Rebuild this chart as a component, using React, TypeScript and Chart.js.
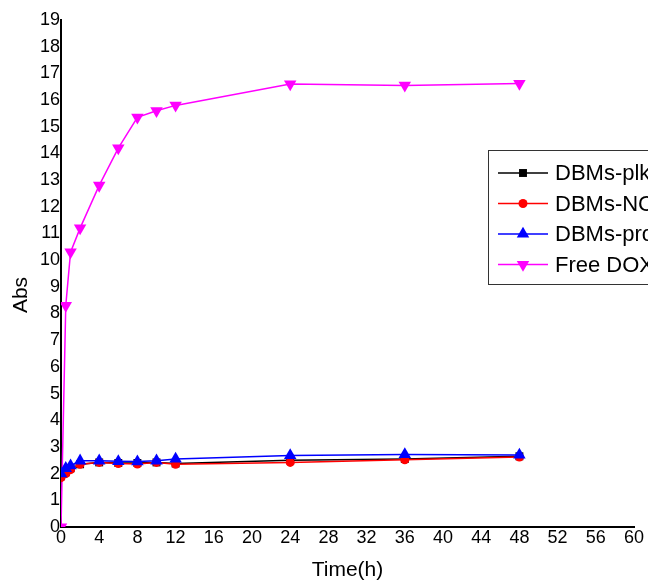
import React, { useEffect, useRef } from "react";
import { Chart, registerables } from "chart.js";

Chart.register(...registerables);

const times = [0, 0.5, 1, 2, 4, 6, 8, 10, 12, 24, 36, 48];
const plkValues = [1.9, 2.05, 2.2, 2.35, 2.42, 2.4, 2.4, 2.42, 2.38, 2.5, 2.55, 2.65];
const ncValues = [1.85, 2.0, 2.15, 2.35, 2.42, 2.38, 2.36, 2.42, 2.35, 2.42, 2.52, 2.62];
const proValues = [2.0, 2.2, 2.3, 2.48, 2.48, 2.46, 2.45, 2.48, 2.55, 2.68, 2.72, 2.7];
const doxValues = [0, 8.3, 10.3, 11.2, 12.8, 14.2, 15.35, 15.6, 15.8, 16.6, 16.55, 16.62];
const seriesLabels = ["DBMs-plk", "DBMs-NC", "DBMs-pro", "Free DOX"];
const xTitle = "Time(h)";
const yTitle = "Abs";

const FONT = "'Liberation Sans', Arial, sans-serif";

function drawMarker(ctx: CanvasRenderingContext2D, style: string, r: number, x: number, y: number, color: string) {
  ctx.save();
  ctx.fillStyle = color;
  ctx.beginPath();
  if (style === "rect") {
    const s = r * Math.SQRT1_2;
    ctx.rect(x - s, y - s, 2 * s, 2 * s);
  } else if (style === "circle") {
    ctx.arc(x, y, r, 0, Math.PI * 2);
  } else if (style === "up") {
    ctx.moveTo(x, y - r);
    ctx.lineTo(x + r * Math.sin(Math.PI / 3), y + r / 2);
    ctx.lineTo(x - r * Math.sin(Math.PI / 3), y + r / 2);
    ctx.closePath();
  } else {
    ctx.moveTo(x, y + r);
    ctx.lineTo(x + r * Math.sin(Math.PI / 3), y - r / 2);
    ctx.lineTo(x - r * Math.sin(Math.PI / 3), y - r / 2);
    ctx.closePath();
  }
  ctx.fill();
  ctx.restore();
}

const legendMarkers = [
  { style: "rect", r: 5.6, color: "#000000" },
  { style: "circle", r: 4.5, color: "#ff0000" },
  { style: "up", r: 7.2, color: "#0000ff" },
  { style: "down", r: 7.2, color: "#ff00ff" },
];

const overlayPlugin = {
  id: "overlay",
  afterDraw(chart: any) {
    const ctx = chart.ctx as CanvasRenderingContext2D;
    const area = chart.chartArea;
    ctx.save();
    // axis titles
    ctx.fillStyle = "#000";
    ctx.font = `21px ${FONT}`;
    ctx.textAlign = "center";
    ctx.textBaseline = "middle";
    ctx.fillText(xTitle, (area.left + area.right) / 2, 570);
    ctx.save();
    ctx.translate(21, 295);
    ctx.rotate(-Math.PI / 2);
    ctx.fillText(yTitle, 0, 0);
    ctx.restore();

    // legend box
    const bx = 488, by = 150, bh = 134;
    ctx.strokeStyle = "#333";
    ctx.lineWidth = 1;
    ctx.strokeRect(bx + 0.5, by + 0.5, 220, bh);
    ctx.textAlign = "left";
    ctx.font = `22px ${FONT}`;
    for (let i = 0; i < seriesLabels.length; i++) {
      const y = 173 + i * 30.5;
      const m = legendMarkers[i];
      ctx.strokeStyle = m.color;
      ctx.lineWidth = 1.5;
      ctx.beginPath();
      ctx.moveTo(498, y);
      ctx.lineTo(548, y);
      ctx.stroke();
      drawMarker(ctx, m.style, m.r, 523, y, m.color);
      ctx.fillStyle = "#000";
      ctx.fillText(seriesLabels[i], 555, y + 1);
    }
    ctx.restore();
  },
};

function toPoints(vals: number[]) {
  return times.map((t, i) => ({ x: t, y: vals[i] }));
}

export default function App() {
  const ref = useRef<HTMLCanvasElement>(null);
  useEffect(() => {
    if (!ref.current) return;
    const chart = new Chart(ref.current, {
      type: "line",
      data: {
        datasets: [
          {
            label: seriesLabels[0],
            data: toPoints(plkValues),
            borderColor: "#000000",
            backgroundColor: "#000000",
            pointStyle: "rect",
            pointRadius: 5.6,
            pointBorderWidth: 0,
            borderWidth: 1.5,
            order: 2,
          },
          {
            label: seriesLabels[1],
            data: toPoints(ncValues),
            borderColor: "#ff0000",
            backgroundColor: "#ff0000",
            pointStyle: "circle",
            pointRadius: 4.5,
            pointBorderWidth: 0,
            borderWidth: 1.5,
            order: 1,
          },
          {
            label: seriesLabels[2],
            data: toPoints(proValues),
            borderColor: "#0000ff",
            backgroundColor: "#0000ff",
            pointStyle: "triangle",
            pointRadius: 7.2,
            pointBorderWidth: 0,
            borderWidth: 1.5,
            order: 0,
          },
          {
            label: seriesLabels[3],
            data: toPoints(doxValues),
            borderColor: "#ff00ff",
            backgroundColor: "#ff00ff",
            pointStyle: "triangle",
            rotation: 180,
            pointRadius: 7.2,
            pointBorderWidth: 0,
            borderWidth: 1.5,
            order: 3,
          } as any,
        ],
      },
      options: {
        animation: false,
        responsive: false,
        maintainAspectRatio: false,
        layout: { padding: { top: 20, right: 14, left: 0, bottom: 0 } },
        plugins: {
          legend: { display: false },
          tooltip: { enabled: false },
          title: { display: false },
        },
        scales: {
          x: {
            type: "linear",
            min: 0,
            max: 60,
            afterFit: (s: any) => {
              s.height = 56;
            },
            ticks: {
              stepSize: 4,
              color: "#000",
              font: { family: FONT, size: 18 },
              padding: 0,
              maxRotation: 0,
              autoSkip: false,
            },
            grid: { display: false, drawTicks: false },
            border: { display: true, color: "#000", width: 2 },
          },
          y: {
            type: "linear",
            min: 0,
            max: 19,
            afterFit: (s: any) => {
              s.width = 61;
            },
            ticks: {
              stepSize: 1,
              color: "#000",
              font: { family: FONT, size: 18 },
              padding: 1,
              autoSkip: false,
            },
            grid: { display: false, drawTicks: false },
            border: { display: true, color: "#000", width: 2 },
          },
        },
      },
      plugins: [overlayPlugin],
    });
    return () => chart.destroy();
  }, []);
  return (
    <div style={{ position: "fixed", left: 0, top: 0, width: 648, height: 583, background: "#fff" }}>
      <canvas ref={ref} width={648} height={583} style={{ width: 648, height: 583, display: "block" }} />
    </div>
  );
}
